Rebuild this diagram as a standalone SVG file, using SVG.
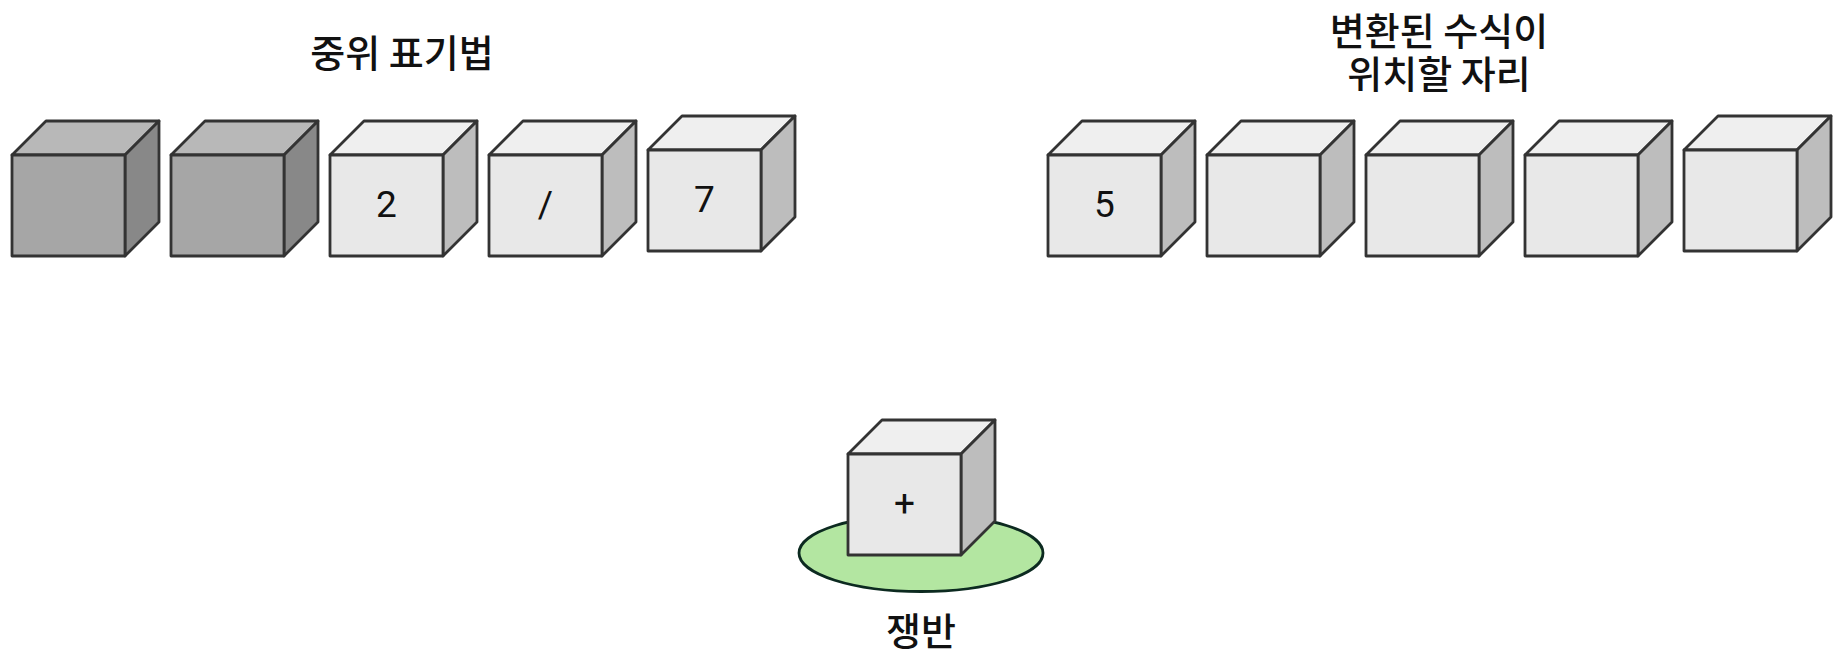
<svg xmlns="http://www.w3.org/2000/svg" xmlns:xlink="http://www.w3.org/1999/xlink" width="1847" height="671" viewBox="0 0 1847 671">
<style>
.edge{stroke:#333333;stroke-width:2.8;stroke-linejoin:round}
.lf{fill:#e8e8e8}.lt{fill:#efefef}.lr{fill:#bdbdbd}
.df{fill:#a6a6a6}.dt{fill:#b8b8b8}.dr{fill:#888888}
.title{font-family:"Noto Sans CJK KR","Noto Sans",sans-serif;font-size:38px;font-weight:500;fill:#111;text-anchor:middle}
.val{font-family:Roboto,"Liberation Sans",sans-serif;font-size:37px;fill:#111;text-anchor:middle}
</style>
<defs>
<g id="cubeLight">
<polygon class="lt edge" points="0,0 34,-34 147,-34 113,0"/>
<polygon class="lr edge" points="113,0 147,-34 147,67 113,101"/>
<rect class="lf edge" x="0" y="0" width="113" height="101"/>
</g>
<g id="cubeDark">
<polygon class="dt edge" points="0,0 34,-34 147,-34 113,0"/>
<polygon class="dr edge" points="113,0 147,-34 147,67 113,101"/>
<rect class="df edge" x="0" y="0" width="113" height="101"/>
</g>
</defs>
<g id="connectors"/>
<text class="title" x="402" y="67">중위 표기법</text>
<text class="title" x="1439" y="45"><tspan x="1439" y="45">변환된 수식이</tspan><tspan x="1439" y="88">위치할 자리</tspan></text>
<g id="in1" transform="translate(12,155)"><use xlink:href="#cubeDark"/></g>
<g id="in2" transform="translate(171,155)"><use xlink:href="#cubeDark"/></g>
<g id="in3" transform="translate(330,155)"><use xlink:href="#cubeLight"/><text class="val" x="56.5" y="62">2</text></g>
<g id="in4" transform="translate(489,155)"><use xlink:href="#cubeLight"/><text class="val" x="56.5" y="62">/</text></g>
<g id="in5" transform="translate(648,150)"><use xlink:href="#cubeLight"/><text class="val" x="56.5" y="62">7</text></g>
<g id="out1" transform="translate(1048,155)"><use xlink:href="#cubeLight"/><text class="val" x="56.5" y="62">5</text></g>
<g id="out2" transform="translate(1207,155)"><use xlink:href="#cubeLight"/></g>
<g id="out3" transform="translate(1366,155)"><use xlink:href="#cubeLight"/></g>
<g id="out4" transform="translate(1525,155)"><use xlink:href="#cubeLight"/></g>
<g id="out5" transform="translate(1684,150)"><use xlink:href="#cubeLight"/></g>
<g id="tray">
<ellipse cx="921" cy="553" rx="122" ry="38.5" fill="#b3e6a1" stroke="#0c2a20" stroke-width="2.8"/>
<text class="title" x="921" y="645">쟁반</text>
</g>
<g id="stack" transform="translate(848,454)"><use xlink:href="#cubeLight"/><text class="val" x="56.5" y="62">+</text></g>
</svg>
